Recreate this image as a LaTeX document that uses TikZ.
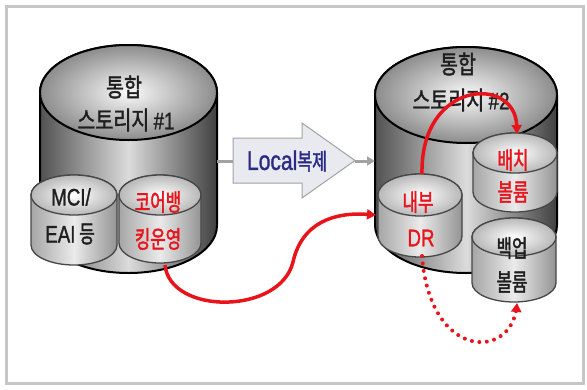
\documentclass[tikz,border=0pt]{standalone}
\usepackage{fontspec}
\usetikzlibrary{arrows.meta}
\newfontfamily\kr[FakeStretch=0.78,FakeBold=1.6]{Noto Sans CJK KR}
\newfontfamily\krs[FakeStretch=0.7,FakeBold=1.6]{Noto Sans CJK KR}
\newfontfamily\lat[FakeStretch=0.78,FakeBold=1.2]{Liberation Sans}
\definecolor{redx}{HTML}{E8141B}
\definecolor{navy}{HTML}{2B2B86}
\definecolor{framec}{HTML}{C6C6C6}
\definecolor{arrowfill}{HTML}{E9EAF0}
\definecolor{arrowline}{HTML}{A2A2A2}
\newcommand{\mycyl}[7]{%
  \path[#6] (#1-#3,#2) -- (#1-#3,#5)
    arc[start angle=180,end angle=0,x radius=#3,y radius=#4]
    -- (#1+#3,#2)
    arc[start angle=0,end angle=-180,x radius=#3,y radius=#4] -- cycle;
  \path[#7] (#1,#2) ellipse[x radius=#3,y radius=#4];
}
\newcommand{\latt}[1]{{\lat\fontsize{24}{24}\selectfont #1}}
\begin{document}
\begin{tikzpicture}[x=1pt,y=-1pt,
  bigbody/.style={draw=black,line width=2pt,left color=black!68,right color=black!75,middle color=black!14},
  bigtop/.style={draw=black,line width=2pt,inner color=black!2,outer color=black!45},
  smallbody/.style={draw=black!72,line width=1.3pt,left color=black!35,right color=black!42,middle color=black!8},
  smalltop/.style={draw=black!72,line width=1.3pt,inner color=white,outer color=black!28},
  lbl/.style={inner sep=0pt,text=black!88,font=\kr\fontsize{25}{25}\selectfont},
  slbl/.style={inner sep=0pt,text=black!88,font=\krs\fontsize{24}{24}\selectfont},
  redlbl/.style={slbl,text=redx},
  redarrow/.style={draw=redx,line width=3.5pt,-{Triangle[length=9pt,width=10pt]}},
  grayconn/.style={draw=arrowline,line width=3pt},
]
\useasboundingbox (0,0) rectangle (587,389);
\draw[framec,line width=3pt] (6,6) rectangle (583,383);

% storage 1
\mycyl{128.5}{92.5}{88.5}{47.5}{225.5}{bigbody}{bigtop}
\node[lbl] (s1a) at (124,87) {통합};
\node[lbl] (s1b) at (126,120) {스토리지 \latt{\#1}};
\mycyl{74}{195}{43}{20}{245}{smallbody}{smalltop}
\node[slbl] (mcia) at (71,197) {\latt{MCI/}};
\node[slbl] (mcib) at (70,234) {\latt{EAI} 등};
\mycyl{160}{195}{41}{20}{243}{smallbody}{smalltop}
\node[redlbl] (corea) at (158,202) {코어뱅};
\node[redlbl] (coreb) at (158,239) {킹운영};

% storage 2
\mycyl{466}{95}{91}{48}{225}{bigbody}{bigtop}
\node[lbl] (s2a) at (458,64) {통합};
\node[lbl] (s2b) at (461,100) {스토리지 \latt{\#2}};
\mycyl{420}{195}{42}{21}{236}{smallbody}{smalltop}
\node[redlbl] (dra) at (418,202) {내부};
\node[redlbl] (drb) at (421,238) {\latt{DR}};
\mycyl{515}{153}{42}{20}{192}{smallbody}{smalltop}
\node[redlbl] (bata) at (513,160) {배치};
\node[redlbl] (batb) at (513,192) {볼륨};
\mycyl{514}{237}{42}{19}{283}{smallbody}{smalltop}
\node[slbl] (bkpa) at (512,248) {백업};
\node[slbl] (bkpb) at (512,282) {볼륨};

% local replication arrow
\path[fill=arrowfill,draw=arrowline,line width=1pt]
  (233,138) -- (302,138) -- (302,123) -- (355,160.5) -- (302,198) -- (302,183) -- (233,183) -- cycle;
\node[inner sep=0pt,text=navy] (rep) at (287,161)
  {{\lat\fontsize{27}{27}\selectfont Local}{\krs\fontsize{23}{23}\selectfont 복제}};

\coordinate (c1e) at (217,161);
\coordinate (repw) at (233,161);
\coordinate (repe) at (355,161);
\coordinate (c2w) at (375,161);
\draw[grayconn] (c1e) -- (repw);
\draw[grayconn,-{Triangle[length=8pt,width=9pt]}] (repe) -- (c2w);

% red flows
\coordinate (coreS) at (165,265);
\coordinate (drW) at (376,215);
\coordinate (drN) at (422,174);
\coordinate (batN) at (517,134);
\coordinate (drS) at (422,256);
\coordinate (bkpS) at (517,303);
\draw[redarrow] (coreS) .. controls (170,315) and (280,315) .. (293,262)
  .. controls (302,222) and (335,212) .. (drW);
\draw[redarrow] (drN) .. controls (420,80) and (515,75) .. (batN);
\draw[draw=redx,line width=4pt,line cap=round,dash pattern=on 0pt off 7.5pt]
  (drS) .. controls (430,360) and (510,360) .. (516.5,308);
\draw[redarrow,line width=3pt] (516.5,309) -- (bkpS);
\end{tikzpicture}
\end{document}
